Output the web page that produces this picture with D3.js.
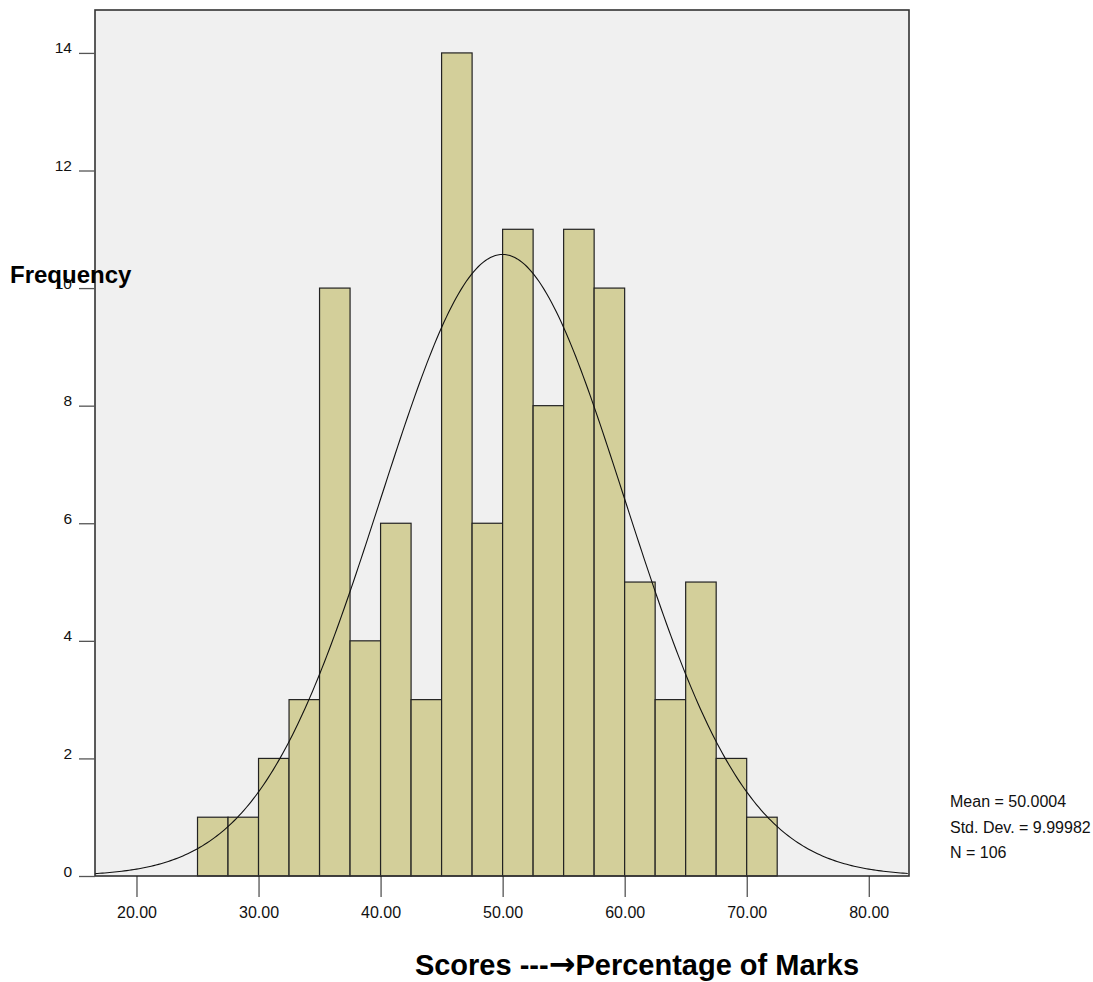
<!DOCTYPE html>
<html>
<head>
<meta charset="utf-8">
<script src="https://cdn.jsdelivr.net/npm/d3@7"></script>
<style>
  body { margin: 0; background: #fff; }
  svg text { font-family: "Liberation Sans", Arial, sans-serif; }
</style>
</head>
<body>
<svg id="chart"></svg>
<script>
// histogram bins (lower edge), counts per bin
const binStarts = [25, 27.5, 30, 32.5, 35, 37.5, 40, 42.5, 45, 47.5, 50, 52.5, 55, 57.5, 60, 62.5, 65, 67.5, 70];
const counts = [1, 1, 2, 3, 10, 4, 6, 3, 14, 6, 11, 8, 11, 10, 5, 3, 5, 2, 1];
const binWidth = 2.5;
const xTicks = [20, 30, 40, 50, 60, 70, 80];
const yTicks = [0, 2, 4, 6, 8, 10, 12, 14];
const mean = 50.0004;
const stdDev = 9.99982;
const n = 106;
const statLines = ["Mean = 50.0004", "Std. Dev. = 9.99982", "N = 106"];

const w = 1093, h = 982;
const plot = { left: 95, right: 909, top: 10, bottom: 876 };

const svg = d3.select("#chart")
	.attr("width", w)
	.attr("height", h);

const x = d3.scaleLinear()
	.domain([16.6, 83.3])
	.range([plot.left, plot.right]);

const y = d3.scaleLinear()
	.domain([0, 14.73])
	.range([plot.bottom, plot.top]);

// plot background
svg.append("rect")
	.attr("x", plot.left)
	.attr("y", plot.top)
	.attr("width", plot.right - plot.left)
	.attr("height", plot.bottom - plot.top)
	.attr("fill", "#f0f0f0");

const bars = binStarts.map((s, i) => ({ x0: s, x1: s + binWidth, count: counts[i] }));

svg.append("g")
	.selectAll("rect")
	.data(bars)
	.enter()
	.append("rect")
	.attr("x", d => x(d.x0))
	.attr("y", d => y(d.count))
	.attr("width", d => x(d.x1) - x(d.x0))
	.attr("height", d => y(0) - y(d.count))
	.attr("fill", "#d3cf9a")
	.attr("stroke", "#222")
	.attr("stroke-width", 1.2);

// fitted normal curve, scaled to counts
const normal = v => n * binWidth / (stdDev * Math.sqrt(2 * Math.PI)) *
	Math.exp(-0.5 * Math.pow((v - mean) / stdDev, 2));
const curveXs = d3.range(16.6, 83.31, 0.2);

const lineFun = d3.line()
	.x(d => x(d))
	.y(d => y(normal(d)));

svg.append("path")
	.attr("d", lineFun(curveXs))
	.attr("fill", "none")
	.attr("stroke", "#111")
	.attr("stroke-width", 1.1);

// frame
svg.append("rect")
	.attr("x", plot.left)
	.attr("y", plot.top)
	.attr("width", plot.right - plot.left)
	.attr("height", plot.bottom - plot.top)
	.attr("fill", "none")
	.attr("stroke", "#333")
	.attr("stroke-width", 1.6);

// axes
const yAxis = svg.append("g")
	.attr("transform", `translate(${plot.left},0)`)
	.call(d3.axisLeft(y).tickValues(yTicks).tickSize(16).tickPadding(7).tickFormat(d3.format("d")));
yAxis.select(".domain").remove();
yAxis.selectAll("line").attr("stroke", "#555").attr("stroke-width", 1.3);
yAxis.selectAll("text")
	.attr("dy", "0")
	.attr("font-size", "15.5px")
	.attr("fill", "#111")
	.attr("font-family", "Liberation Sans, Arial, sans-serif");

const xAxis = svg.append("g")
	.attr("transform", `translate(0,${plot.bottom})`)
	.call(d3.axisBottom(x).tickValues(xTicks).tickSize(21).tickPadding(10).tickFormat(d3.format(".2f")));
xAxis.select(".domain").remove();
xAxis.selectAll("line").attr("stroke", "#222").attr("stroke-width", 1);
xAxis.selectAll("text")
	.attr("font-size", "16px")
	.attr("fill", "#111")
	.attr("font-family", "Liberation Sans, Arial, sans-serif");

// titles
svg.append("text")
	.text("Frequency")
	.attr("x", 10)
	.attr("y", 283)
	.attr("font-size", "24px")
	.attr("font-weight", "bold")
	.attr("fill", "#000");

const xTitle = svg.append("text")
	.attr("x", 637)
	.attr("y", 975)
	.attr("text-anchor", "middle")
	.attr("font-size", "29px")
	.attr("font-weight", "bold")
	.attr("fill", "#000");
xTitle.append("tspan").text("Scores ---");
xTitle.append("tspan")
	.attr("font-family", "DejaVu Sans, sans-serif")
	.attr("font-size", "32px")
	.text("\u2192");
xTitle.append("tspan").text("Percentage of Marks");

// stats
svg.append("g")
	.selectAll("text")
	.data(statLines)
	.enter()
	.append("text")
	.text(d => d)
	.attr("x", 950)
	.attr("y", (d, i) => 807 + i * 25.5)
	.attr("font-size", "16px")
	.attr("fill", "#111");
</script>
</body>
</html>
